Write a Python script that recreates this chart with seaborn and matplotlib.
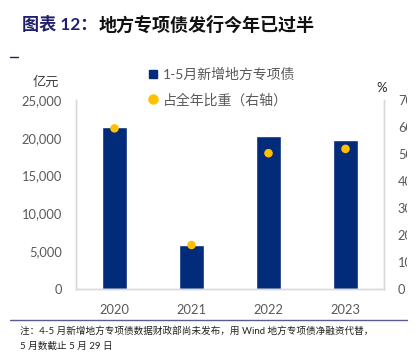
import matplotlib
matplotlib.use("Agg")
import matplotlib.pyplot as plt
from matplotlib.lines import Line2D
from matplotlib.patches import Rectangle
import seaborn as sns
import pandas as pd

# data
years = ["2020", "2021", "2022", "2023"]
new_bonds = [21450, 5800, 20300, 19750]      # 亿元, 1-5月新增地方专项债
share_pct = [59.5, 16.3, 50.3, 51.9]         # 占全年比重 (%)

NAVY = "#022B7A"
GOLD = "#FFC000"
GREY = "#595959"
AXIS = "#D9D9D9"

sns.set_theme(style="white")
plt.rcParams["font.family"] = ["Lato", "Noto Sans CJK SC", "DejaVu Sans"]

W, H = 419, 357
fig = plt.figure(figsize=(W / 100, H / 100), dpi=100)

def fx(px):
    return px / W

def fy(py):
    return 1 - py / H

ax = fig.add_axes([fx(76), fy(289), fx(384) - fx(76), fy(100) - fy(289)])
df = pd.DataFrame({"year": years, "bonds": new_bonds, "share": share_pct})

sns.barplot(data=df, x="year", y="bonds", color=NAVY, width=0.32,
            saturation=1, ax=ax)
ax.set_ylim(0, 25000)
ax.set_xlim(-0.5, 3.5)
ax.set_yticks(range(0, 25001, 5000))
ax.set_yticklabels([f"{v:,}" for v in range(0, 25001, 5000)])
ax.set_xlabel("")
ax.set_ylabel("")

ax2 = ax.twinx()
sns.scatterplot(data=df, x="year", y="share", color=GOLD, s=38,
                edgecolor="none", zorder=5, ax=ax2)
ax2.set_ylim(0, 70)
ax2.set_yticks(range(0, 71, 10))
ax2.set_ylabel("")

for a in (ax, ax2):
    a.spines["top"].set_visible(False)
    for side in ["left", "right", "bottom"]:
        a.spines[side].set_color(AXIS)
        a.spines[side].set_linewidth(1.0)
    a.tick_params(length=0, labelsize=9.3, labelcolor=GREY, pad=10)
    a.grid(False)
ax.tick_params(axis="x", pad=11)

# legend
handles = [
    Line2D([], [], marker="s", linestyle="none", color=NAVY, markersize=5.5),
    Line2D([], [], marker="o", linestyle="none", color=GOLD, markersize=6.5),
]
fig.legend(handles, ["1-5月新增地方专项债", "占全年比重（右轴）"],
           loc="upper left", bbox_to_anchor=(fx(142), fy(62)),
           frameon=False, fontsize=10, labelcolor=GREY, handletextpad=0.3,
           handlelength=0.8, labelspacing=0.85, borderaxespad=0)

# axis units
fig.text(fx(46), fy(82), "亿元", ha="center", va="center", fontsize=9.5,
         color="#404040")
fig.text(fx(382), fy(88), "%", ha="center", va="center", fontsize=9.5,
         color="#262626")

# title
fig.text(fx(22), fy(25), "图表 12：", ha="left", va="center", fontsize=12.3,
         fontweight="bold", color="#1F1F6E")
fig.text(fx(99), fy(25), "地方专项债发行今年已过半", ha="left", va="center",
         fontsize=13, fontweight="bold", color="#111111")
fig.add_artist(Line2D([fx(10), fx(18)], [fy(57), fy(57)], color="#1F1F6E",
                      lw=1.0, transform=fig.transFigure))

# source note
fig.add_artist(Line2D([fx(10), fx(407)], [fy(320), fy(320)], color="#5B5B8F",
                      lw=1.0, transform=fig.transFigure))
fig.text(fx(20), fy(331), "注：4-5 月新增地方专项债数据财政部尚未发布，用 Wind 地方专项债净融资代替，",
         ha="left", va="center", fontsize=6.95, color="#222222")
fig.text(fx(20), fy(346), "5 月数截止 5 月 29 日", ha="left", va="center",
         fontsize=6.95, color="#222222")

# the original image is cut off just past the right tick labels
fig.add_artist(Rectangle((fx(407), fy(300)), 1 - fx(407), fy(85) - fy(300),
                         transform=fig.transFigure, facecolor="white",
                         edgecolor="none", zorder=10))

fig.savefig("out.png", dpi=100)
